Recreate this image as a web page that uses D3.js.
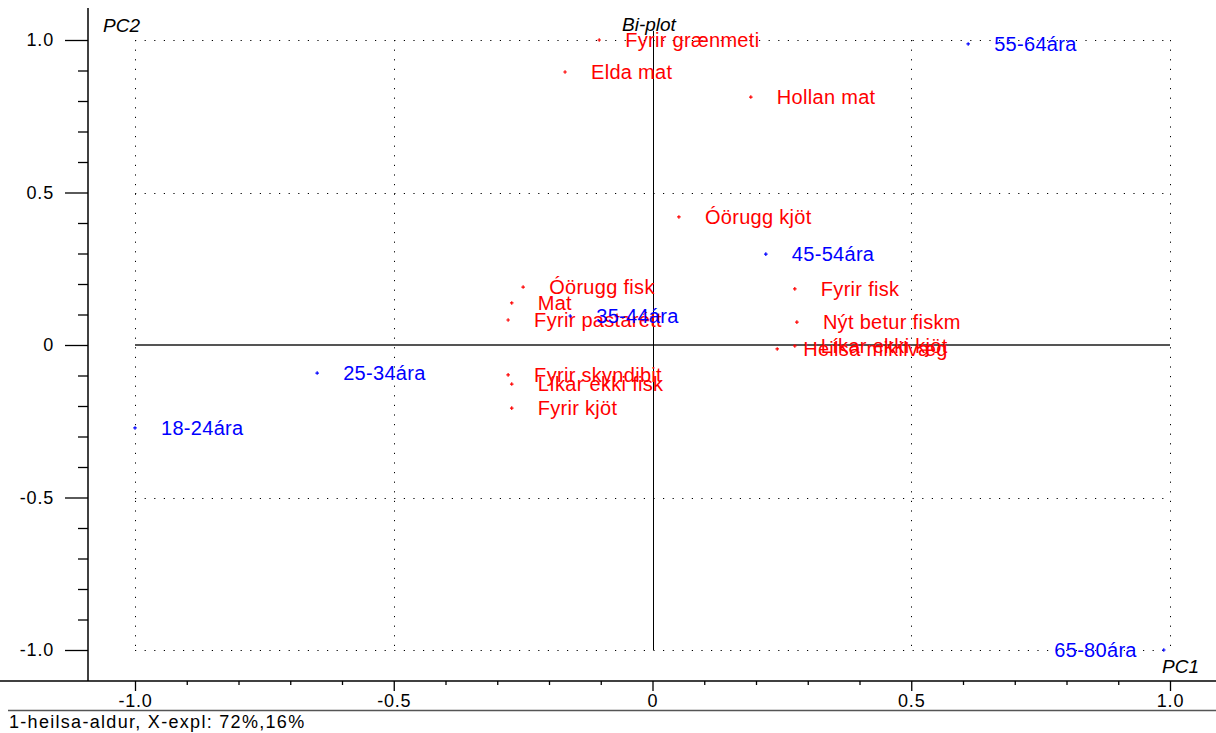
<!DOCTYPE html>
<html>
<head>
<meta charset="utf-8">
<script src="https://cdn.jsdelivr.net/npm/d3@7"></script>
<style>
  html, body { margin: 0; padding: 0; background: #fff; }
  svg { display: block; }
  text { font-family: "Liberation Sans", Arial, sans-serif; }
</style>
</head>
<body>
<svg id="chart" width="1216" height="733"></svg>
<script>
// ---- data ----
const ageLabels = ["18-24ára", "25-34ára", "35-44ára", "45-54ára", "55-64ára", "65-80ára"];
const agePC1 = [-1.0, -0.648, -0.159, 0.219, 0.610, 0.988];
const agePC2 = [-0.272, -0.092, 0.095, 0.298, 0.987, -1.0];

const varLabels = ["Fyrir grænmeti", "Elda mat", "Hollan mat", "Óörugg kjöt", "Fyrir fisk",
  "Nýt betur fiskm", "Líkar ekki kjöt", "Heilsa mikilvæg", "Óörugg fisk", "Mat",
  "Fyrir pastarétt", "Fyrir skyndibit", "Líkar ekki fisk", "Fyrir kjöt"];
const varPC1 = [-0.103, -0.169, 0.190, 0.051, 0.275, 0.279, 0.275, 0.241, -0.250, -0.272,
  -0.279, -0.279, -0.272, -0.272];
const varPC2 = [1.0, 0.895, 0.813, 0.420, 0.184, 0.075, -0.003, -0.013, 0.190, 0.138,
  0.082, -0.098, -0.128, -0.207];

const majorTicks = [-1.0, -0.5, 0, 0.5, 1.0];
const tickLabels = ["-1.0", "-0.5", "0", "0.5", "1.0"];
const minorTicks = d3.range(-10, 11).map(i => i / 10).filter(v => Math.abs(v * 2 - Math.round(v * 2)) > 1e-9);
const gridValues = [-1.0, -0.5, 0.5, 1.0];

const titleText = "Bi-plot";
const xAxisName = "PC1";
const yAxisName = "PC2";
const caption = "1-heilsa-aldur, X-expl: 72%,16%";

// ---- drawing ----
const W = 1216;
const svg = d3.select("#chart");
svg.append("rect").attr("width", W).attr("height", 733).attr("fill", "#fff");

const x = d3.scaleLinear().domain([-1, 1]).range([135, 1170]);
const y = d3.scaleLinear().domain([-1, 1]).range([650, 40]);
const axisX = 88, axisY = 681;
const fmt = d => tickLabels[majorTicks.findIndex(m => Math.abs(m - d) < 1e-9)];

// dotted grid
const grid = svg.append("g").attr("stroke", "#000").attr("stroke-width", 1).attr("stroke-dasharray", "1.2,8.4");
grid.selectAll("line.v").data(gridValues).join("line")
  .attr("x1", d => Math.round(x(d)) + 0.5).attr("x2", d => Math.round(x(d)) + 0.5)
  .attr("y1", y(1)).attr("y2", y(-1));
grid.selectAll("line.h").data(gridValues).join("line")
  .attr("y1", d => Math.round(y(d)) + 0.5).attr("y2", d => Math.round(y(d)) + 0.5)
  .attr("x1", x(-1)).attr("x2", x(1));

// zero lines
svg.append("line").attr("x1", x(-1)).attr("x2", x(1))
  .attr("y1", y(0)).attr("y2", y(0)).attr("stroke", "#555").attr("stroke-width", 2);
svg.append("line").attr("x1", Math.round(x(0)) + 0.5).attr("x2", Math.round(x(0)) + 0.5)
  .attr("y1", y(1.03)).attr("y2", y(-1)).attr("stroke", "#000").attr("stroke-width", 1);

// axes
function styleAxis(g) {
  g.select(".domain").remove();
  g.selectAll(".tick line").attr("stroke", "#000").attr("stroke-width", 1.3);
  g.selectAll(".tick text").attr("fill", "#000").style("font-size", "18px").style("letter-spacing", "0.8px");
}
svg.append("g").attr("transform", `translate(${axisX},0)`)
  .call(d3.axisLeft(y).tickValues(majorTicks).tickSize(23).tickPadding(11).tickFormat(fmt))
  .call(styleAxis);
svg.append("g").attr("transform", `translate(${axisX},0)`)
  .call(d3.axisLeft(y).tickValues(minorTicks).tickSize(10).tickFormat(""))
  .call(styleAxis);
svg.append("g").attr("transform", `translate(0,${axisY})`)
  .call(d3.axisBottom(x).tickValues(majorTicks).tickSize(10).tickPadding(3).tickFormat(fmt))
  .call(styleAxis);
svg.append("g").attr("transform", `translate(0,${axisY})`)
  .call(d3.axisBottom(x).tickValues(minorTicks).tickSize(4).tickFormat(""))
  .call(styleAxis);

svg.append("line").attr("x1", axisX).attr("x2", axisX).attr("y1", 8).attr("y2", axisY)
  .attr("stroke", "#000").attr("stroke-width", 1.5);
svg.append("line").attr("x1", 0).attr("x2", W).attr("y1", axisY).attr("y2", axisY)
  .attr("stroke", "#000").attr("stroke-width", 1.5);
svg.append("line").attr("x1", 8).attr("x2", W).attr("y1", 710.5).attr("y2", 710.5)
  .attr("stroke", "#555").attr("stroke-width", 1.5);

// titles
svg.append("text").attr("x", 103).attr("y", 32).attr("font-style", "italic")
  .style("font-size", "19px").text(yAxisName);
svg.append("text").attr("x", 622).attr("y", 31).attr("font-style", "italic")
  .style("font-size", "19px").text(titleText);
svg.append("text").attr("x", 1162).attr("y", 673).attr("font-style", "italic")
  .style("font-size", "19px").text(xAxisName);
svg.append("text").attr("x", 9).attr("y", 728)
  .style("font-size", "18px").style("letter-spacing", "1.3px").text(caption);

// points
const cross = d3.symbol().type(d3.symbolCross).size(7);
function drawSet(labels, px, py, color) {
  const g = svg.append("g");
  const data = labels.map((l, i) => ({ l, px: px[i], py: py[i] }));
  g.selectAll("path").data(data).join("path")
    .attr("d", cross)
    .attr("transform", d => `translate(${x(d.px)},${y(d.py)})`)
    .attr("fill", color);
  g.selectAll("text").data(data).join("text")
    .attr("y", d => y(d.py))
    .attr("dy", "0.36em").attr("fill", color)
    .style("font-size", "20px").style("letter-spacing", "0.3px")
    .text(d => d.l)
    .each(function (d) {
      const t = d3.select(this);
      const w = this.getComputedTextLength();
      if (x(d.px) + 26 + w > W - 10) {
        t.attr("x", x(d.px) - 27).attr("text-anchor", "end");
      } else {
        t.attr("x", x(d.px) + 26);
      }
    });
}
drawSet(varLabels, varPC1, varPC2, "#ff0000");
drawSet(ageLabels, agePC1, agePC2, "#0000ff");
</script>
</body>
</html>
